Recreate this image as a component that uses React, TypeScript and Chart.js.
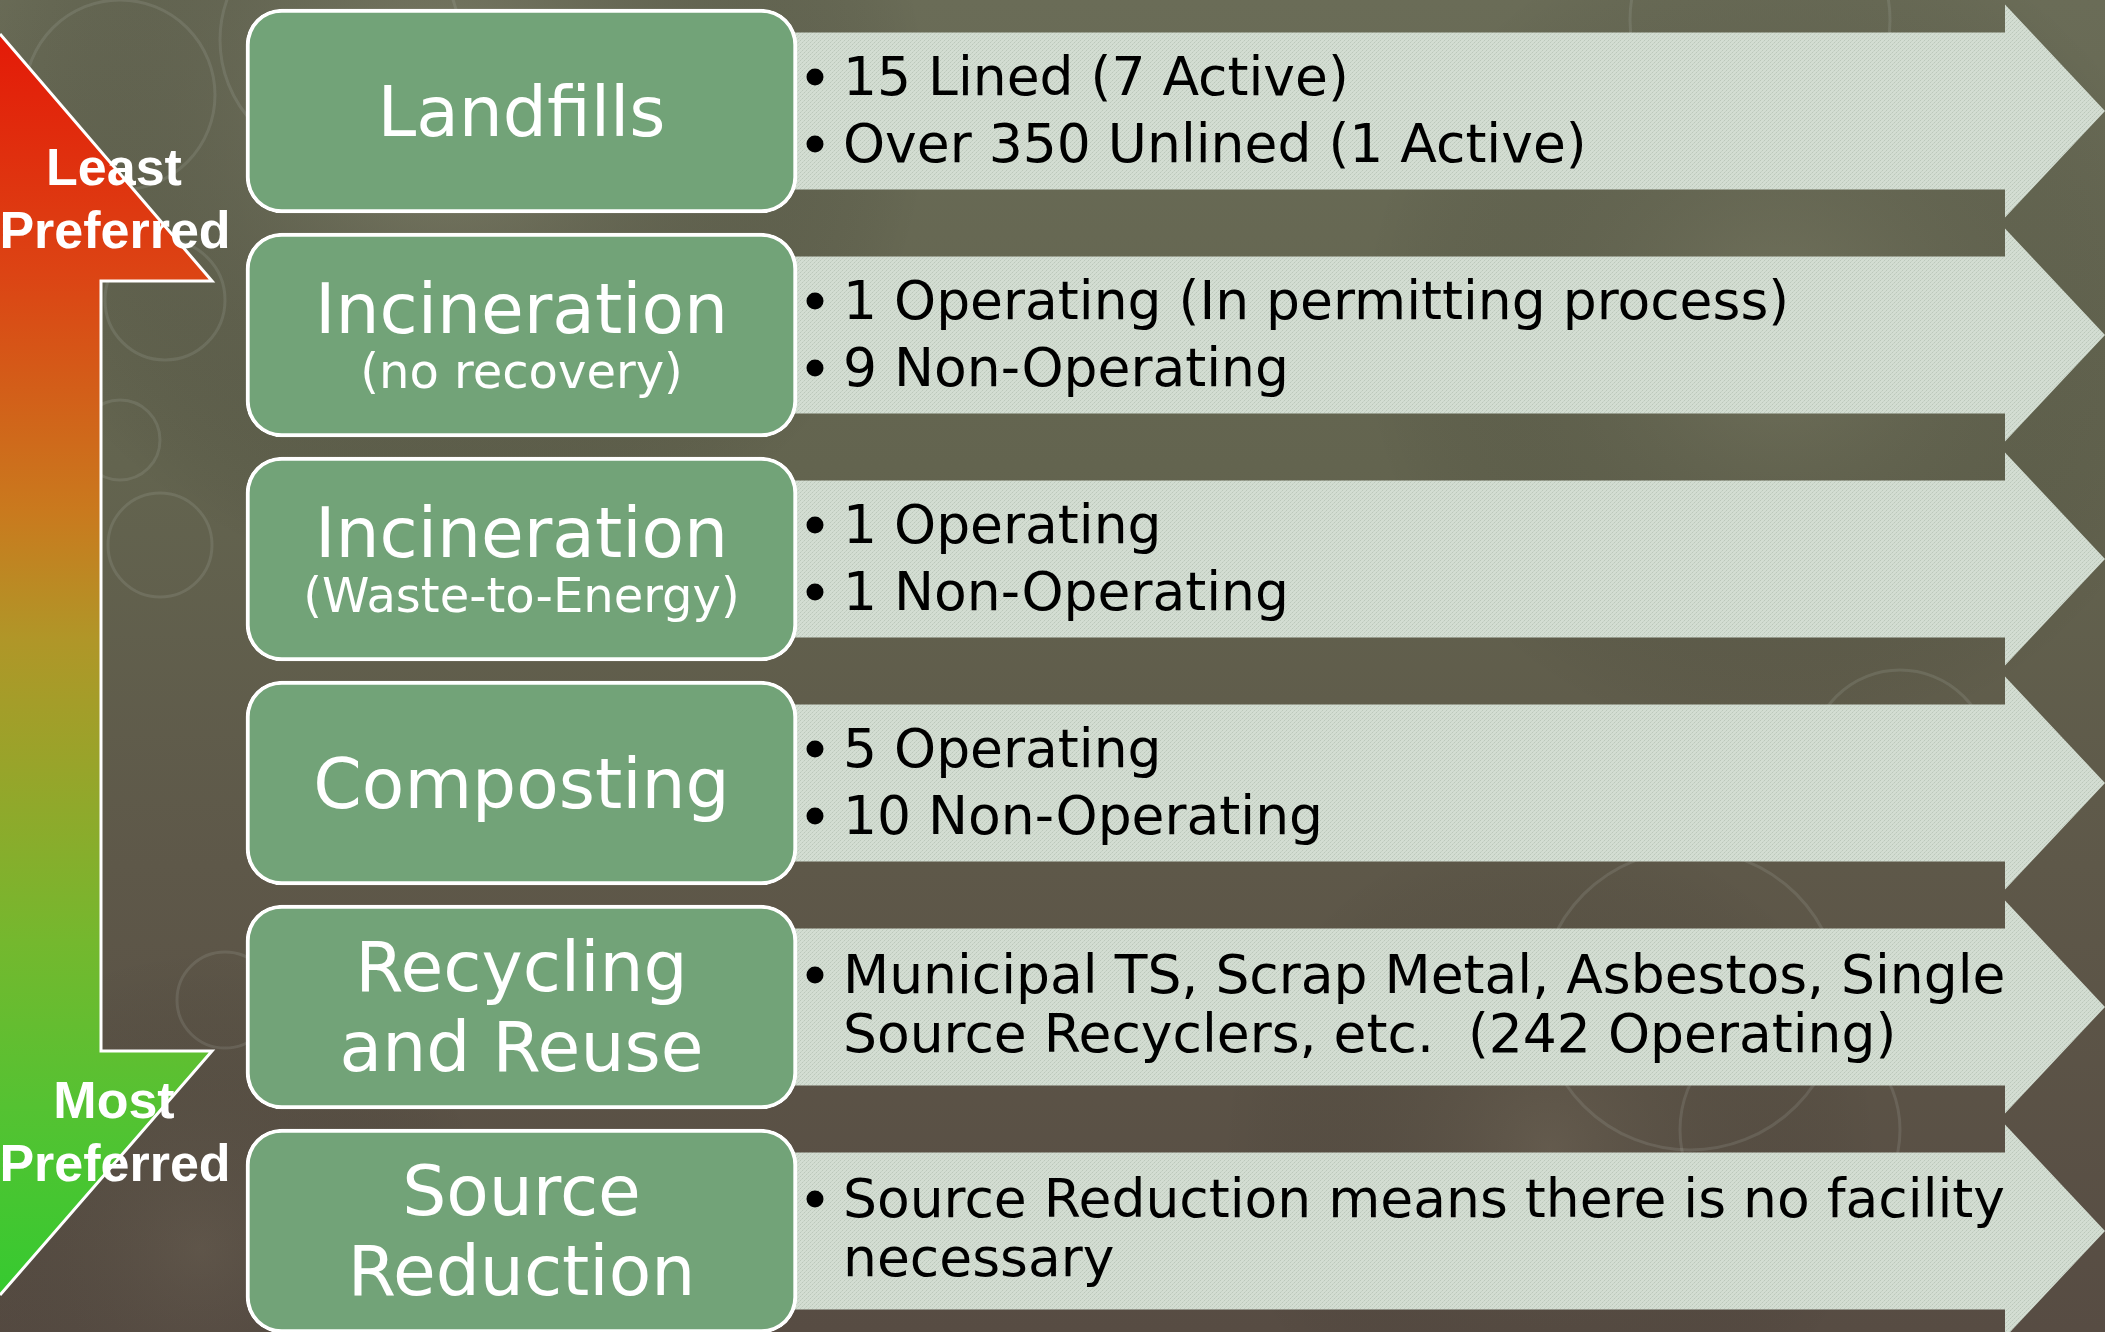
import React, { useEffect, useRef } from 'react';
import { Chart, registerables } from 'chart.js';

Chart.register(...registerables);

// ---------------- data ----------------
const tierRanks = [0, 1, 2, 3, 4, 5];
const tierTitles = [
  ['Landfills'],
  ['Incineration'],
  ['Incineration'],
  ['Composting'],
  ['Recycling', 'and Reuse'],
  ['Source', 'Reduction'],
];
const tierSubtitles = ['', '(no recovery)', '(Waste-to-Energy)', '', '', ''];
const tierBullets = [
  [['15 Lined (7 Active)'], ['Over 350 Unlined (1 Active)']],
  [['1 Operating (In permitting process)'], ['9 Non-Operating']],
  [['1 Operating'], ['1 Non-Operating']],
  [['5 Operating'], ['10 Non-Operating']],
  [['Municipal TS, Scrap Metal, Asbestos, Single', 'Source Recyclers, etc.  (242 Operating)']],
  [['Source Reduction means there is no facility', 'necessary']],
];
const leastLabel = ['Least', 'Preferred'];
const mostLabel = ['Most', 'Preferred'];

// ---------------- layout ----------------
const W = 2105;
const H = 1332;
const ROW0 = 111;
const PITCH = 224;
const BOX_L = 246;
const BOX_R = 797;
const BOX_H = 204;
const ARROW_L = 780;
const ARROW_HEAD_X = 2005;
const ARROW_TIP_X = 2105;
const BODY_HALF = 78.5;
const HEAD_HALF = 106.5;
const SANS = '"DejaVu Sans", Verdana, sans-serif';
const BOLD = '"Liberation Sans", Arial, sans-serif';

function makeArrowPattern(ctx: CanvasRenderingContext2D) {
  const c = document.createElement('canvas');
  c.width = 4;
  c.height = 4;
  const p = c.getContext('2d')!;
  p.fillStyle = '#d3ddd2';
  p.fillRect(0, 0, 4, 4);
  p.fillStyle = '#bcc8bb';
  p.fillRect(0, 0, 1, 1);
  p.fillRect(2, 2, 1, 1);
  p.fillStyle = '#c7d2c6';
  p.fillRect(1, 3, 1, 1);
  p.fillRect(3, 1, 1, 1);
  return ctx.createPattern(c, 'repeat') || '#cfdacf';
}

const backgroundPlugin = {
  id: 'slideBackground',
  beforeDraw(chart: any) {
    const ctx: CanvasRenderingContext2D = chart.ctx;
    ctx.save();
    const g = ctx.createLinearGradient(0, 0, 0, H);
    g.addColorStop(0, '#6a6c57');
    g.addColorStop(0.35, '#63644f');
    g.addColorStop(0.65, '#5e5849');
    g.addColorStop(1, '#574c43');
    ctx.fillStyle = g;
    ctx.fillRect(0, 0, W, H);

    const glows = [
      [450, 110, 480, 'rgba(160,160,135,0.42)'],
      [1780, 330, 420, 'rgba(150,150,125,0.28)'],
      [1550, 1150, 330, 'rgba(135,125,105,0.22)'],
      [200, 1250, 300, 'rgba(120,112,95,0.2)'],
    ] as const;
    glows.forEach(([x, y, r, col]) => {
      const rg = ctx.createRadialGradient(x, y, 0, x, y, r);
      rg.addColorStop(0, col);
      rg.addColorStop(1, 'rgba(0,0,0,0)');
      ctx.fillStyle = rg;
      ctx.fillRect(0, 0, W, H);
    });

    const rings = [
      [120, 95, 95], [340, 40, 120], [165, 300, 60], [160, 545, 52],
      [120, 440, 40], [225, 1000, 48], [1760, 20, 130], [1790, 1130, 110],
      [1690, 1000, 150], [1900, 760, 90],
    ];
    ctx.strokeStyle = 'rgba(195,205,195,0.14)';
    ctx.lineWidth = 3;
    rings.forEach(([x, y, r]) => {
      ctx.beginPath();
      ctx.arc(x, y, r, 0, Math.PI * 2);
      ctx.stroke();
    });

    // preference arrow on the left
    const ys = chart.scales.y;
    const top = ys.getPixelForValue((34 - ROW0) / PITCH);
    const shoulderTop = ys.getPixelForValue((281 - ROW0) / PITCH);
    const shoulderBot = ys.getPixelForValue((1051 - ROW0) / PITCH);
    const bot = ys.getPixelForValue((1295 - ROW0) / PITCH);
    const lg = ctx.createLinearGradient(0, top, 0, bot);
    lg.addColorStop(0, '#e41a08');
    lg.addColorStop(0.19, '#dc4414');
    lg.addColorStop(0.38, '#c97a1e');
    lg.addColorStop(0.48, '#b09628');
    lg.addColorStop(0.58, '#98a42a');
    lg.addColorStop(0.72, '#74b82e');
    lg.addColorStop(0.85, '#55c232');
    lg.addColorStop(1, '#36ca30');
    const path = () => {
      ctx.beginPath();
      ctx.moveTo(0, top);
      ctx.lineTo(212, shoulderTop);
      ctx.lineTo(101, shoulderTop);
      ctx.lineTo(101, shoulderBot);
      ctx.lineTo(212, shoulderBot);
      ctx.lineTo(0, bot);
    };
    path();
    ctx.closePath();
    ctx.fillStyle = lg;
    ctx.fill();
    path();
    ctx.strokeStyle = '#ffffff';
    ctx.lineWidth = 3;
    ctx.lineJoin = 'miter';
    ctx.stroke();
    ctx.restore();
  },
};

const arrowsPlugin = {
  id: 'tierArrows',
  beforeDatasetsDraw(chart: any) {
    const ctx: CanvasRenderingContext2D = chart.ctx;
    const ys = chart.scales.y;
    const xs = chart.scales.x;
    const pattern = makeArrowPattern(ctx);
    ctx.save();
    tierRanks.forEach((rank) => {
      const cy = ys.getPixelForValue(rank);
      const x0 = xs.getPixelForValue(ARROW_L);
      const xh = xs.getPixelForValue(ARROW_HEAD_X);
      const xt = xs.getPixelForValue(ARROW_TIP_X);
      ctx.beginPath();
      ctx.moveTo(x0, cy - BODY_HALF);
      ctx.lineTo(xh, cy - BODY_HALF);
      ctx.lineTo(xh, cy - HEAD_HALF);
      ctx.lineTo(xt, cy);
      ctx.lineTo(xh, cy + HEAD_HALF);
      ctx.lineTo(xh, cy + BODY_HALF);
      ctx.lineTo(x0, cy + BODY_HALF);
      ctx.closePath();
      ctx.fillStyle = pattern as any;
      ctx.fill();
    });
    ctx.restore();
  },
};

const textPlugin = {
  id: 'tierText',
  afterDatasetsDraw(chart: any) {
    const ctx: CanvasRenderingContext2D = chart.ctx;
    const ys = chart.scales.y;
    const xs = chart.scales.x;
    ctx.save();
    ctx.textBaseline = 'alphabetic';
    tierRanks.forEach((rank, i) => {
      const cy = ys.getPixelForValue(rank);
      const cx = (xs.getPixelForValue(BOX_L) + xs.getPixelForValue(BOX_R)) / 2;
      ctx.fillStyle = '#ffffff';
      ctx.textAlign = 'center';
      const title = tierTitles[i];
      const sub = tierSubtitles[i];
      ctx.font = `69.5px ${SANS}`;
      if (sub) {
        ctx.fillText(title[0], cx, cy - 2);
        ctx.font = `48px ${SANS}`;
        ctx.fillText(sub, cx, cy + 53);
      } else if (title.length === 2) {
        ctx.fillText(title[0], cx, cy - 16);
        ctx.fillText(title[1], cx, cy + 64);
      } else {
        ctx.fillText(title[0], cx, cy + 25);
      }

      // bullets
      ctx.textAlign = 'left';
      ctx.font = `53.5px ${SANS}`;
      ctx.fillStyle = '#000000';
      const bullets = tierBullets[i];
      const baselines: number[] = [];
      if (bullets.length === 2) {
        baselines.push(cy - 16, cy + 51);
      } else {
        baselines.push(cy - 14, cy + 45);
      }
      let li = 0;
      bullets.forEach((lines) => {
        lines.forEach((line, k) => {
          const by = baselines[li++];
          if (k === 0) {
            ctx.beginPath();
            ctx.arc(815, by - 18, 8.5, 0, Math.PI * 2);
            ctx.fill();
          }
          ctx.fillText(line, 843, by);
        });
      });
    });

    // preference labels
    ctx.fillStyle = '#ffffff';
    ctx.textAlign = 'center';
    ctx.font = `bold 52px ${BOLD}`;
    ctx.fillText(leastLabel[0], 114, 185);
    ctx.fillText(leastLabel[1], 115, 248);
    ctx.fillText(mostLabel[0], 114, 1118);
    ctx.fillText(mostLabel[1], 115, 1181);
    ctx.restore();
  },
};

export default function App() {
  const canvasRef = useRef<HTMLCanvasElement | null>(null);

  useEffect(() => {
    const canvas = canvasRef.current;
    if (!canvas) return;
    const chart = new Chart(canvas, {
      type: 'bar',
      data: {
        datasets: [
          {
            label: 'Tiers',
            data: tierRanks.map((r) => ({ y: r, x: [BOX_L, BOX_R] })) as any,
            backgroundColor: '#72a378',
            borderColor: '#ffffff',
            borderWidth: 4,
            borderRadius: 36,
            borderSkipped: false,
            barThickness: BOX_H,
          },
        ],
      },
      options: {
        indexAxis: 'y',
        animation: false,
        responsive: false,
        devicePixelRatio: 1,
        events: [],
        layout: { padding: 0 },
        plugins: {
          legend: { display: false },
          tooltip: { enabled: false },
          title: { display: false },
        },
        scales: {
          x: { type: 'linear', min: 0, max: W, display: false, offset: false },
          y: {
            type: 'linear',
            reverse: true,
            offset: false,
            grace: 0,
            min: -ROW0 / PITCH,
            max: (H - ROW0) / PITCH,
            display: false,
          },
        },
      },
      plugins: [backgroundPlugin, arrowsPlugin, textPlugin],
    });
    return () => chart.destroy();
  }, []);

  return (
    <div style={{ position: 'fixed', left: 0, top: 0, width: W, height: H, overflow: 'hidden' }}>
      <canvas ref={canvasRef} width={W} height={H} style={{ display: 'block', width: W, height: H }} />
    </div>
  );
}
